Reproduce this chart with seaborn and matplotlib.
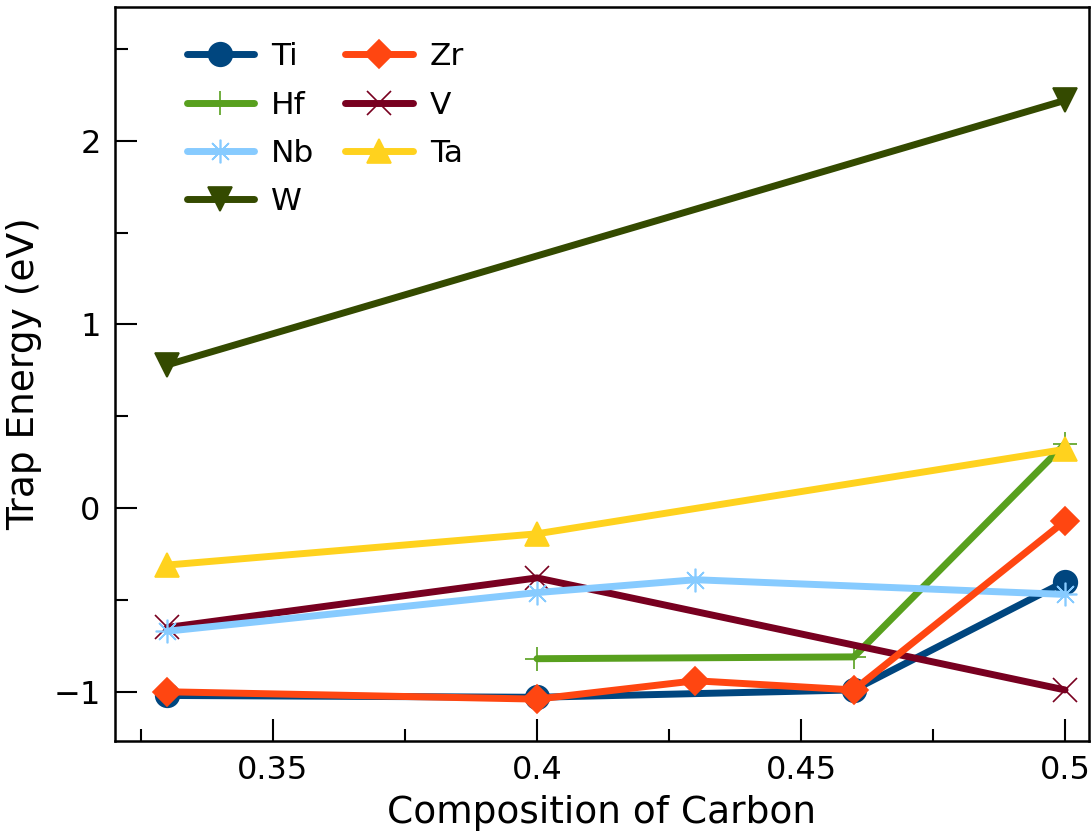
import seaborn as sns
import pandas as pd
import matplotlib.pyplot as plt

# trap energies
ti_x = [0.33, 0.40, 0.46, 0.50]
ti_y = [-1.02, -1.03, -0.99, -0.40]
hf_x = [0.40, 0.46, 0.50]
hf_y = [-0.82, -0.81, 0.35]
nb_x = [0.33, 0.40, 0.43, 0.50]
nb_y = [-0.67, -0.46, -0.39, -0.47]
w_x = [0.33, 0.50]
w_y = [0.78, 2.22]
zr_x = [0.33, 0.40, 0.43, 0.46, 0.50]
zr_y = [-1.00, -1.04, -0.94, -0.99, -0.07]
v_x = [0.33, 0.40, 0.50]
v_y = [-0.65, -0.38, -0.99]
ta_x = [0.33, 0.40, 0.50]
ta_y = [-0.31, -0.14, 0.32]

series = {
    'Ti': (ti_x, ti_y, '#00467f', 'o'),
    'Hf': (hf_x, hf_y, '#58a01e', '+'),
    'V': (v_x, v_y, '#780020', 'x'),
    'Nb': (nb_x, nb_y, '#87cbff', (8, 2, 0)),
    'W': (w_x, w_y, '#344a00', 'v'),
    'Zr': (zr_x, zr_y, '#ff4611', 'D'),
    'Ta': (ta_x, ta_y, '#ffd21e', '^'),
}

sns.set_style('ticks')
plt.rcParams['font.family'] = ['DejaVu Sans']
plt.rcParams['text.color'] = 'black'
plt.rcParams['axes.labelcolor'] = 'black'
plt.rcParams['xtick.color'] = 'black'
plt.rcParams['ytick.color'] = 'black'

fig = plt.figure(figsize=(10.91, 8.33), dpi=100)
ax = fig.add_axes([0.105, 0.11, 0.893, 0.882])

for name, (x, y, c, m) in series.items():
    df = pd.DataFrame({'x': x, 'y': y})
    ms = 14 if m in ('D',) else 17
    sns.lineplot(data=df, x='x', y='y', ax=ax, color=c, marker=m, markersize=ms,
                 linewidth=5, mec=c, mfc=c, mew=1.2, label=name)

ax.set_xlim(0.32, 0.5045)
ax.set_ylim(-1.27, 2.73)
ax.set_xticks([0.35, 0.4, 0.45, 0.5])
ax.set_xticklabels(['0.35', '0.4', '0.45', '0.5'])
ax.set_xticks([0.325, 0.375, 0.425, 0.475], minor=True)
ax.set_yticks([-1, 0, 1, 2])
ax.set_yticklabels(['\u22121', '0', '1', '2'])
ax.set_yticks([-0.5, 0.5, 1.5, 2.5], minor=True)
ax.tick_params(which='major', direction='in', length=16, width=1.5, labelsize=23, pad=10)
ax.tick_params(which='minor', direction='in', length=9, width=1.5)
for s in ax.spines.values():
    s.set_linewidth(1.8)
    s.set_color('black')

ax.set_xlabel('Composition of Carbon', fontsize=27, labelpad=6)
ax.set_ylabel('Trap Energy (eV)', fontsize=27, labelpad=8)

h, l = ax.get_legend_handles_labels()
order = ['Ti', 'Hf', 'Nb', 'W', 'Zr', 'V', 'Ta']
hd = dict(zip(l, h))
ax.legend([hd[k] for k in order], order, ncol=2, loc='upper left', frameon=False,
          fontsize=22.5, handlelength=2.15, columnspacing=1.0, labelspacing=0.62,
          bbox_to_anchor=(0.045, 0.99), handletextpad=0.55)

fig.savefig('out.png', dpi=100)
